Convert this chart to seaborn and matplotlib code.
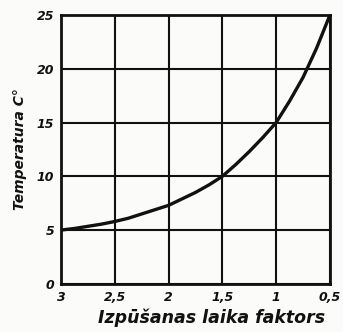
import matplotlib
matplotlib.use("Agg")
import matplotlib.pyplot as plt
import seaborn as sns
import pandas as pd

# Blow-out time factor and the corresponding temperature
factor = [3.0, 2.875, 2.75, 2.625, 2.5, 2.375, 2.25, 2.125, 2.0, 1.875, 1.75,
          1.625, 1.5, 1.375, 1.25, 1.125, 1.0, 0.875, 0.75, 0.625, 0.5]
temperature = [5.0, 5.15, 5.35, 5.55, 5.8, 6.1, 6.5, 6.9, 7.3, 7.9, 8.5,
               9.2, 10.0, 11.1, 12.3, 13.6, 15.0, 17.0, 19.2, 21.9, 25.0]

x_ticks = [3, 2.5, 2, 1.5, 1, 0.5]
x_tick_labels = ["3", "2,5", "2", "1,5", "1", "0,5"]
y_ticks = [0, 5, 10, 15, 20, 25]
y_tick_labels = ["0", "5", "10", "15", "20", "25"]

sns.set_style("white")
plt.rcParams["font.family"] = ["DejaVu Sans"]
plt.rcParams["text.color"] = "#111111"
plt.rcParams["axes.labelcolor"] = "#111111"
plt.rcParams["xtick.color"] = "#111111"
plt.rcParams["ytick.color"] = "#111111"

df = pd.DataFrame({"factor": factor, "temperature": temperature})

fig = plt.figure(figsize=(3.43, 3.32), dpi=100, facecolor="#fbfbf9")
ax = fig.add_axes([0.178, 0.145, 0.784, 0.81])
ax.set_facecolor("#fbfbf9")

sns.lineplot(data=df, x="factor", y="temperature", ax=ax, color="#111111",
             linewidth=2.4, zorder=3)

ax.set_xlim(3, 0.5)
ax.set_ylim(0, 25)
ax.set_xticks(x_ticks)
ax.set_xticklabels(x_tick_labels)
ax.set_yticks(y_ticks)
ax.set_yticklabels(y_tick_labels)
ax.grid(True, color="#111111", linewidth=1.5)
ax.tick_params(length=0, labelsize=9, pad=5)
for lab in ax.get_xticklabels() + ax.get_yticklabels():
    lab.set_fontweight("bold")
    lab.set_fontstyle("italic")
for sp in ax.spines.values():
    sp.set_color("#111111")
    sp.set_linewidth(2)

ax.set_xlabel("Izpūšanas laika faktors", fontsize=12.5, fontweight="bold",
              fontstyle="italic")
ax.xaxis.set_label_coords(0.56, -0.092)
ax.set_ylabel("Temperatura C°", fontsize=10, fontweight="bold",
              fontstyle="italic")
ax.yaxis.set_label_coords(-0.125, 0.5)

fig.savefig("out.png", dpi=100, facecolor=fig.get_facecolor())
